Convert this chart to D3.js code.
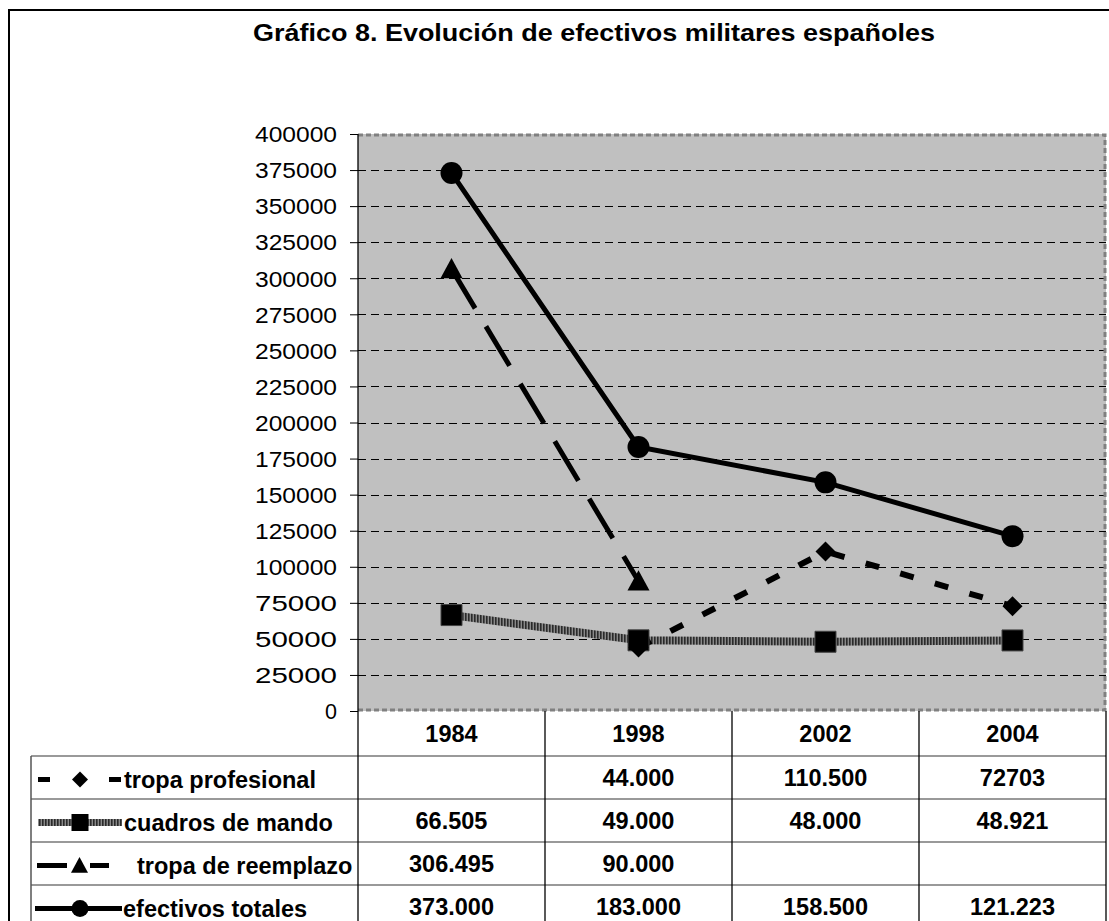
<!DOCTYPE html>
<html>
<head>
<meta charset="utf-8">
<script src="https://cdn.jsdelivr.net/npm/d3@7/dist/d3.min.js"></script>
<style>
  body { margin: 0; background: #fff; }
  text { font-family: "Liberation Sans", Arial, sans-serif; fill: #000; }
</style>
</head>
<body>
<div class="chart-container"></div>
<script>

// Data
const years = ["1984", "1998", "2002", "2004"];
const seriesNames = ["tropa profesional", "cuadros de mando", "tropa de reemplazo", "efectivos totales"];
const profesional = [null, 44000, 110500, 72703];
const cuadros = [66505, 49000, 48000, 48921];
const reemplazo = [306495, 90000, null, null];
const totales = [373000, 183000, 158500, 121223];
// table cells as printed
const profesionalText = ["", "44.000", "110.500", "72703"];
const cuadrosText = ["66.505", "49.000", "48.000", "48.921"];
const reemplazoText = ["306.495", "90.000", "", ""];
const totalesText = ["373.000", "183.000", "158.500", "121.223"];
const yTicks = [0, 25000, 50000, 75000, 100000, 125000, 150000, 175000, 200000,
  225000, 250000, 275000, 300000, 325000, 350000, 375000, 400000];

const title = "Gráfico 8. Evolución de efectivos militares españoles";

// Size
var w = 1109;
var h = 921;
const plot = {left: 358, right: 1106, top: 134, bottom: 711};
const tableLeft = 31;
const fontBold = 23.5;

var svg = d3.select(".chart-container")
  .append("svg")
  .attr("width", w)
  .attr("height", h);

// striped texture for "cuadros de mando"
const defs = svg.append("defs");
const pat = defs.append("pattern")
  .attr("id", "stripe")
  .attr("patternUnits", "userSpaceOnUse")
  .attr("width", 3).attr("height", 3);
pat.append("rect").attr("width", 3).attr("height", 3).attr("fill", "#8a8a8a");
pat.append("rect").attr("width", 1.6).attr("height", 3).attr("fill", "#2a2a2a");

// outer frame
svg.append("rect")
  .attr("x", 9).attr("y", 10)
  .attr("width", w + 20).attr("height", h + 20)
  .attr("fill", "#fff")
  .attr("stroke", "#000")
  .attr("stroke-width", 2);

// title
svg.append("text")
  .attr("x", 594).attr("y", 41)
  .attr("text-anchor", "middle")
  .attr("font-size", 24)
  .attr("font-weight", "bold")
  .attr("textLength", 682)
  .attr("lengthAdjust", "spacingAndGlyphs")
  .text(title);

// scales
const x = d3.scaleBand().domain(years).range([plot.left, plot.right]);
const xc = d => x(d) + x.bandwidth() / 2;
const y = d3.scaleLinear().domain([0, 400000]).range([plot.bottom, plot.top]);

// plot background
svg.append("rect")
  .attr("x", plot.left).attr("y", plot.top)
  .attr("width", plot.right - plot.left).attr("height", plot.bottom - plot.top)
  .attr("fill", "#c0c0c0");

// grid lines
svg.append("g")
  .selectAll("line")
  .data(yTicks.filter(t => t > 0 && t < 400000))
  .enter()
  .append("line")
  .attr("x1", plot.left).attr("x2", plot.right)
  .attr("y1", d => Math.round(y(d)) + 0.5).attr("y2", d => Math.round(y(d)) + 0.5)
  .attr("stroke", "#000")
  .attr("stroke-width", 1)
  .attr("stroke-dasharray", "8,5");

// dotted border top / right / bottom
svg.append("path")
  .attr("d", `M${plot.left},${plot.top + 1}H${plot.right - 1}V${plot.bottom - 1}H${plot.left}`)
  .attr("fill", "none")
  .attr("stroke", "#808080")
  .attr("stroke-width", 3)
  .attr("stroke-dasharray", "5,3");

// y axis
const yAxis = d3.axisLeft(y)
  .tickValues(yTicks)
  .tickSize(8)
  .tickSizeOuter(0)
  .tickPadding(13)
  .tickFormat(d3.format("d"));

const ax = svg.append("g")
  .attr("transform", `translate(${plot.left},0)`)
  .call(yAxis);
ax.select(".domain").remove();
ax.selectAll("text")
  .attr("font-size", 21.5)
  .attr("font-family", "Liberation Sans, Arial, sans-serif")
  .attr("dy", "0.36em")
  .attr("textLength", 82)
  .attr("lengthAdjust", "spacingAndGlyphs");
ax.selectAll("text").filter(d => d === 0).attr("textLength", null);
ax.selectAll("line").attr("stroke", "#000");

// ---------- data table ----------
const rowBand = d3.scaleBand().domain(seriesNames).range([756, 928]);
const headerTop = plot.bottom, headerBottom = 756;

const table = svg.append("g");

// horizontal row lines
table.selectAll("line.row")
  .data(seriesNames)
  .enter()
  .append("line")
  .attr("class", "row")
  .attr("x1", tableLeft).attr("x2", plot.right)
  .attr("y1", d => rowBand(d)).attr("y2", d => rowBand(d))
  .attr("stroke", "#777")
  .attr("stroke-width", 1.5);

// vertical column lines
const colEdges = years.map(d => x(d)).concat([plot.right]);
table.selectAll("line.col")
  .data(colEdges)
  .enter()
  .append("line")
  .attr("class", "col")
  .attr("x1", d => d).attr("x2", d => d)
  .attr("y1", (d, i) => (i === 0 ? plot.top : headerTop)).attr("y2", h)
  .attr("stroke", "#000")
  .attr("stroke-width", 1.3);

table.append("line")
  .attr("x1", tableLeft).attr("x2", tableLeft)
  .attr("y1", headerBottom).attr("y2", h)
  .attr("stroke", "#555")
  .attr("stroke-width", 1.5);

// year header
table.selectAll("text.year")
  .data(years)
  .enter()
  .append("text")
  .attr("class", "year")
  .attr("x", d => xc(d))
  .attr("y", 742)
  .attr("text-anchor", "middle")
  .attr("font-size", fontBold)
  .attr("font-weight", "bold")
  .text(d => d);

const cellText = [profesionalText, cuadrosText, reemplazoText, totalesText];
seriesNames.forEach((name, i) => {
  table.selectAll("text.v" + i)
    .data(cellText[i])
    .enter()
    .append("text")
    .attr("class", "v" + i)
    .attr("x", (d, j) => xc(years[j]))
    .attr("y", rowBand(name) + rowBand.bandwidth() / 2 + 8.5)
    .attr("text-anchor", "middle")
    .attr("font-size", fontBold)
    .attr("font-weight", "bold")
    .text(d => d);
});

// ---------- series ----------
const seriesValues = [profesional, cuadros, reemplazo, totales];
const styles = [
  {stroke: "#000", width: 6, dash: "14,22", marker: "diamond", size: 20},
  {stroke: "url(#stripe)", width: 8, dash: null, marker: "square", size: 21},
  {stroke: "#000", width: 5, dash: "46,21", marker: "triangle", size: 22},
  {stroke: "#000", width: 5, dash: null, marker: "circle", size: 22}
];

function markerPath(type, s) {
  const r = s / 2;
  if (type === "diamond") return `M0,${-r}L${r},0L0,${r}L${-r},0Z`;
  if (type === "square") return `M${-r},${-r}H${r}V${r}H${-r}Z`;
  if (type === "triangle") return `M0,${-r}L${r},${r * 0.85}H${-r}Z`;
  return d3.symbol(d3.symbolCircle, Math.PI * r * r)();
}

const line = d3.line()
  .defined(d => d.v !== null)
  .x(d => xc(d.year))
  .y(d => y(d.v));

const g = svg.append("g");
const drawOrder = [1, 0, 2, 3];
drawOrder.forEach(i => {
  const pts = years.map((yr, j) => ({year: yr, v: seriesValues[i][j]}));
  const st = styles[i];
  g.append("path")
    .datum(pts)
    .attr("fill", "none")
    .attr("stroke", st.stroke)
    .attr("stroke-width", st.width)
    .attr("stroke-dasharray", st.dash)
    .attr("d", line);
});
drawOrder.forEach(i => {
  const pts = years.map((yr, j) => ({year: yr, v: seriesValues[i][j]})).filter(d => d.v !== null);
  const st = styles[i];
  g.selectAll("path.m" + i)
    .data(pts)
    .enter()
    .append("path")
    .attr("class", "m" + i)
    .attr("transform", d => `translate(${xc(d.year)},${y(d.v)})`)
    .attr("d", markerPath(st.marker, st.size))
    .attr("fill", "#000")
    .attr("stroke", i === 1 ? "#444" : "none")
    .attr("stroke-width", 1);
});

// ---------- legend keys in table ----------
const legendDash = ["12,59", null, "30,23", null];
const legendLen = [84, 84, 72, 87];
const legendX0 = [38, 38, 37, 35];
const legendTextX = [124, 124, 137, 123];
const legendSize = [16, 17, 17, 17];

seriesNames.forEach((name, i) => {
  const cy = rowBand(name) + rowBand.bandwidth() / 2 + 2;
  const st = styles[i];
  const key = table.append("g");
  key.append("line")
    .attr("x1", legendX0[i]).attr("x2", legendX0[i] + legendLen[i])
    .attr("y1", cy).attr("y2", cy)
    .attr("stroke", st.stroke)
    .attr("stroke-width", i === 1 ? 7 : 5)
    .attr("stroke-dasharray", legendDash[i]);
  key.append("path")
    .attr("transform", `translate(${i === 2 ? 79.5 : 80},${cy})`)
    .attr("d", markerPath(st.marker, legendSize[i]))
    .attr("fill", "#000");
  key.append("text")
    .attr("x", legendTextX[i])
    .attr("y", cy + 8)
    .attr("font-size", fontBold)
    .attr("font-weight", "bold")
    .text(name);
});

</script>
</body>
</html>
